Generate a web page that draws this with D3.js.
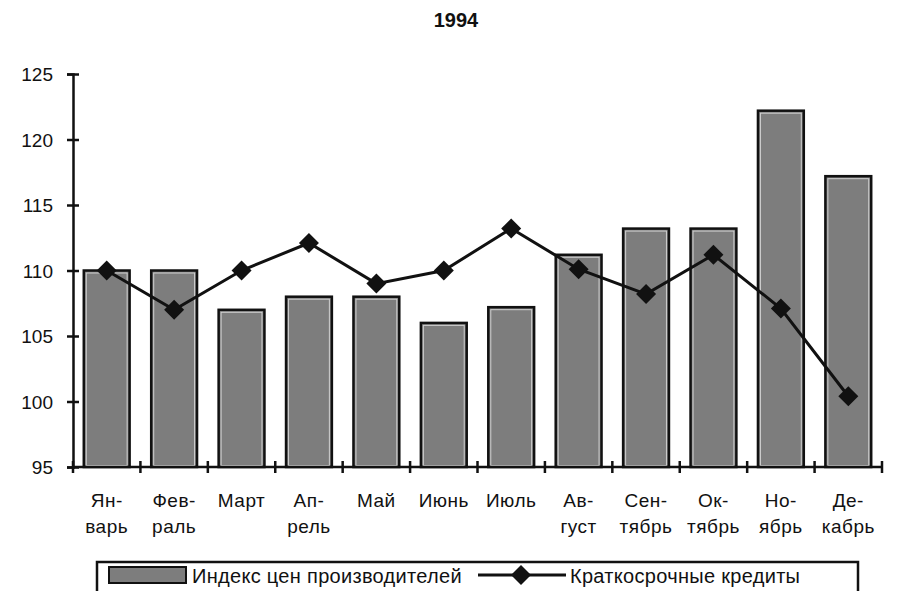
<!DOCTYPE html>
<html>
<head>
<meta charset="utf-8">
<script src="https://cdn.jsdelivr.net/npm/d3@7"></script>
<style>
  body { margin: 0; background: #fff; }
  svg text { font-family: "Liberation Sans", Arial, sans-serif; fill: #111; }
</style>
</head>
<body>
<div id="chart"></div>
<script>
// data
var months = ["Январь", "Февраль", "Март", "Апрель", "Май", "Июнь", "Июль", "Август", "Сентябрь", "Октябрь", "Ноябрь", "Декабрь"];
var monthLabels = [
  ["Ян-", "варь"], ["Фев-", "раль"], ["Март"], ["Ап-", "рель"], ["Май"], ["Июнь"],
  ["Июль"], ["Ав-", "густ"], ["Сен-", "тябрь"], ["Ок-", "тябрь"], ["Но-", "ябрь"], ["Де-", "кабрь"]
];
var priceIndex = [110, 110, 107, 108, 108, 106, 107.2, 111.2, 113.2, 113.2, 122.2, 117.2];
var shortCredits = [110, 107, 110, 112.1, 109, 110, 113.2, 110.1, 108.2, 111.2, 107.1, 100.4];
var yTicks = [95, 100, 105, 110, 115, 120, 125];
var title = "1994";
var legendBar = "Индекс цен производителей";
var legendLine = "Краткосрочные кредиты";

var width = 898, height = 591;

var svg = d3.select("#chart")
  .append("svg")
  .attr("width", width)
  .attr("height", height);

var x = d3.scaleBand()
  .domain(months)
  .range([73, 882])
  .paddingInner(0.32)
  .paddingOuter(0.16);

var y = d3.scaleLinear()
  .domain([95, 125])
  .range([467, 74]);

// title
svg.append("text")
  .attr("x", 456)
  .attr("y", 27)
  .attr("text-anchor", "middle")
  .style("font-size", "20px")
  .style("font-weight", "bold")
  .text(title);

// bars
var bars = svg.append("g").attr("class", "bars")
  .selectAll("g")
  .data(months)
  .enter()
  .append("g");

bars.append("rect")
  .attr("x", function (d) { return x(d); })
  .attr("y", function (d, i) { return y(priceIndex[i]); })
  .attr("width", x.bandwidth())
  .attr("height", function (d, i) { return y(95) - y(priceIndex[i]); })
  .style("fill", "#7d7d7d")
  .style("stroke", "#111")
  .style("stroke-width", 2.5);

// light inner edge
bars.append("rect")
  .attr("x", function (d) { return x(d) + 2.5; })
  .attr("y", function (d, i) { return y(priceIndex[i]) + 2.5; })
  .attr("width", x.bandwidth() - 5)
  .attr("height", function (d, i) { return y(95) - y(priceIndex[i]) - 4; })
  .style("fill", "none")
  .style("stroke", "#cfcfcf")
  .style("stroke-width", 1);

// y axis
var yAxis = svg.append("g")
  .attr("transform", "translate(73,0)")
  .call(d3.axisLeft(y).tickValues(yTicks).tickSize(6).tickPadding(14));
yAxis.select(".domain").style("stroke", "#111").style("stroke-width", 2.5);
yAxis.selectAll(".tick line").attr("x1", 6).attr("x2", -6).style("stroke", "#111").style("stroke-width", 2.5);
yAxis.selectAll(".tick text")
  .style("font-size", "19px")
  .style("font-family", "'Liberation Sans', Arial, sans-serif")
  .attr("dy", "0.35em");

// x axis
var xAxisG = svg.append("g").attr("class", "x-axis");
xAxisG.append("line")
  .attr("x1", 73).attr("x2", 882)
  .attr("y1", y(95)).attr("y2", y(95))
  .style("stroke", "#111").style("stroke-width", 2.5);

var boundaries = months.map(function (d) { return x(d) - x.step() * 0.16; });
boundaries.push(x.range()[1]);
xAxisG.selectAll("line.tick")
  .data(boundaries)
  .enter()
  .append("line")
  .attr("class", "tick")
  .attr("x1", function (d) { return d; })
  .attr("x2", function (d) { return d; })
  .attr("y1", y(95) - 6)
  .attr("y2", y(95) + 6)
  .style("stroke", "#111")
  .style("stroke-width", 2.5);

var labels = xAxisG.selectAll("text")
  .data(months)
  .enter()
  .append("text")
  .attr("text-anchor", "middle")
  .attr("x", function (d) { return x(d) + x.bandwidth() / 2; })
  .attr("y", 507)
  .style("font-size", "19px")
  .style("letter-spacing", "0.5px");

labels.selectAll("tspan")
  .data(function (d, i) { return monthLabels[i]; })
  .enter()
  .append("tspan")
  .attr("x", function () { var p = this.parentNode; return d3.select(p).attr("x"); })
  .attr("dy", function (d, i) { return i === 0 ? 0 : 26; })
  .text(function (d) { return d; });

// line
var line = d3.line()
  .x(function (d, i) { return x(months[i]) + x.bandwidth() / 2; })
  .y(function (d) { return y(d); });

svg.append("path")
  .datum(shortCredits)
  .attr("d", line)
  .style("fill", "none")
  .style("stroke", "#111")
  .style("stroke-width", 3);

var diamond = d3.symbol().type(d3.symbolSquare).size(200);

svg.append("g")
  .selectAll("path")
  .data(shortCredits)
  .enter()
  .append("path")
  .attr("d", diamond)
  .attr("transform", function (d, i) {
    return "translate(" + (x(months[i]) + x.bandwidth() / 2) + "," + y(d) + ") rotate(45)";
  })
  .style("fill", "#111");

// legend
var legend = svg.append("g").attr("class", "legend");
legend.append("rect")
  .attr("x", 97).attr("y", 562)
  .attr("width", 761).attr("height", 40)
  .style("fill", "#fff")
  .style("stroke", "#111")
  .style("stroke-width", 2.5);

legend.append("rect")
  .attr("x", 109).attr("y", 567)
  .attr("width", 77).attr("height", 16)
  .style("fill", "#7d7d7d")
  .style("stroke", "#111")
  .style("stroke-width", 2);

legend.append("text")
  .attr("x", 192).attr("y", 583)
  .style("font-size", "20px")
  .style("letter-spacing", "0.3px")
  .text(legendBar);

legend.append("line")
  .attr("x1", 478).attr("x2", 566)
  .attr("y1", 575).attr("y2", 575)
  .style("stroke", "#111").style("stroke-width", 3);

legend.append("path")
  .attr("d", diamond)
  .attr("transform", "translate(521,575) rotate(45)")
  .style("fill", "#111");

legend.append("text")
  .attr("x", 570).attr("y", 583)
  .style("font-size", "20px")
  .style("letter-spacing", "0.3px")
  .text(legendLine);
</script>
</body>
</html>
